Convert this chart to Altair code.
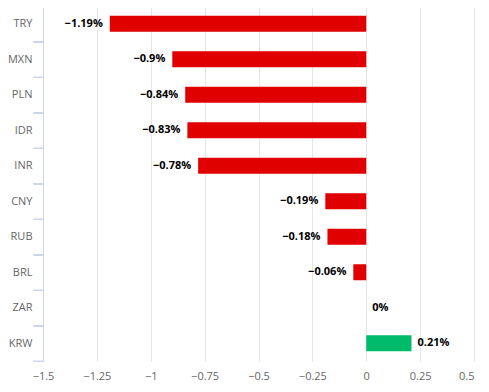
import altair as alt
import pandas as pd

currencies = ["TRY", "MXN", "PLN", "IDR", "INR", "CNY", "RUB", "BRL", "ZAR", "KRW"]
values = [-1.19, -0.9, -0.84, -0.83, -0.78, -0.19, -0.18, -0.06, 0.0, 0.21]
labels = ["\u22121.19%", "\u22120.9%", "\u22120.84%", "\u22120.83%", "\u22120.78%",
          "\u22120.19%", "\u22120.18%", "\u22120.06%", "0%", "0.21%"]
x_ticks = [-1.5, -1.25, -1, -0.75, -0.5, -0.25, 0, 0.25, 0.5]

df = pd.DataFrame({"cur": currencies, "val": values, "lab": labels})
df["sign"] = ["pos" if v > 0 else "neg" for v in values]

FONT = "Open Sans"
AXIS_COLOR = "#ccd6eb"

y_enc = alt.Y(
    "cur:N", sort=currencies, title=None,
    scale=alt.Scale(paddingInner=0, paddingOuter=0),
    axis=alt.Axis(
        tickBand="extent", ticks=True, tickSize=10, tickColor=AXIS_COLOR, tickWidth=1,
        domain=True, domainColor=AXIS_COLOR, domainWidth=1,
        labelPadding=1, labelColor="#666666", labelFont=FONT, labelFontSize=11,
        grid=False,
    ),
)
x_enc = alt.X(
    "val:Q", title=None,
    scale=alt.Scale(domain=[-1.5, 0.5], nice=False, zero=False),
    axis=alt.Axis(
        values=x_ticks, format=".3~g", grid=True, gridColor="#e6e6e6", domain=False, ticks=False,
        labelPadding=9, labelColor="#666666", labelFont=FONT, labelFontSize=11,
        labelFlush=False,
        labelAlign=alt.expr("datum.value == 0.5 ? 'right' : 'center'"),
    ),
)

base = alt.Chart(df)

bars = base.mark_bar(size=16).encode(
    y=y_enc,
    x=x_enc,
    x2=alt.datum(0),
    color=alt.Color("sign:N", scale=alt.Scale(domain=["neg", "pos"], range=["#e10000", "#00bb6c"]), legend=None),
)

tick_rules = base.mark_rule(color=AXIS_COLOR, strokeWidth=1).encode(
    y=alt.Y("cur:N", sort=currencies, bandPosition=0),
    x=alt.value(-10),
    x2=alt.value(0),
)
end_rule = alt.Chart(pd.DataFrame({"k": [0]})).mark_rule(color=AXIS_COLOR, strokeWidth=1).encode(
    y=alt.value(355), x=alt.value(-10), x2=alt.value(0)
)

neg_text = base.transform_filter("datum.val < 0").mark_text(
    align="right", baseline="middle", dx=-7, font=FONT, fontSize=11, fontWeight="bold", color="#000000"
).encode(y=y_enc, x=x_enc, text="lab:N")

pos_text = base.transform_filter("datum.val >= 0").mark_text(
    align="left", baseline="middle", dx=6, font=FONT, fontSize=11, fontWeight="bold", color="#000000"
).encode(y=y_enc, x=x_enc, text="lab:N")

chart = alt.layer(bars, tick_rules, end_rule, neg_text, pos_text).properties(
    width=431, height=355,
    autosize=alt.AutoSizeParams(type="none"),
    padding={"left": 35, "top": -2, "right": 7, "bottom": 22},
).configure_view(stroke=None)

chart.save("out.html", embed_options={"renderer": "svg", "actions": False})
